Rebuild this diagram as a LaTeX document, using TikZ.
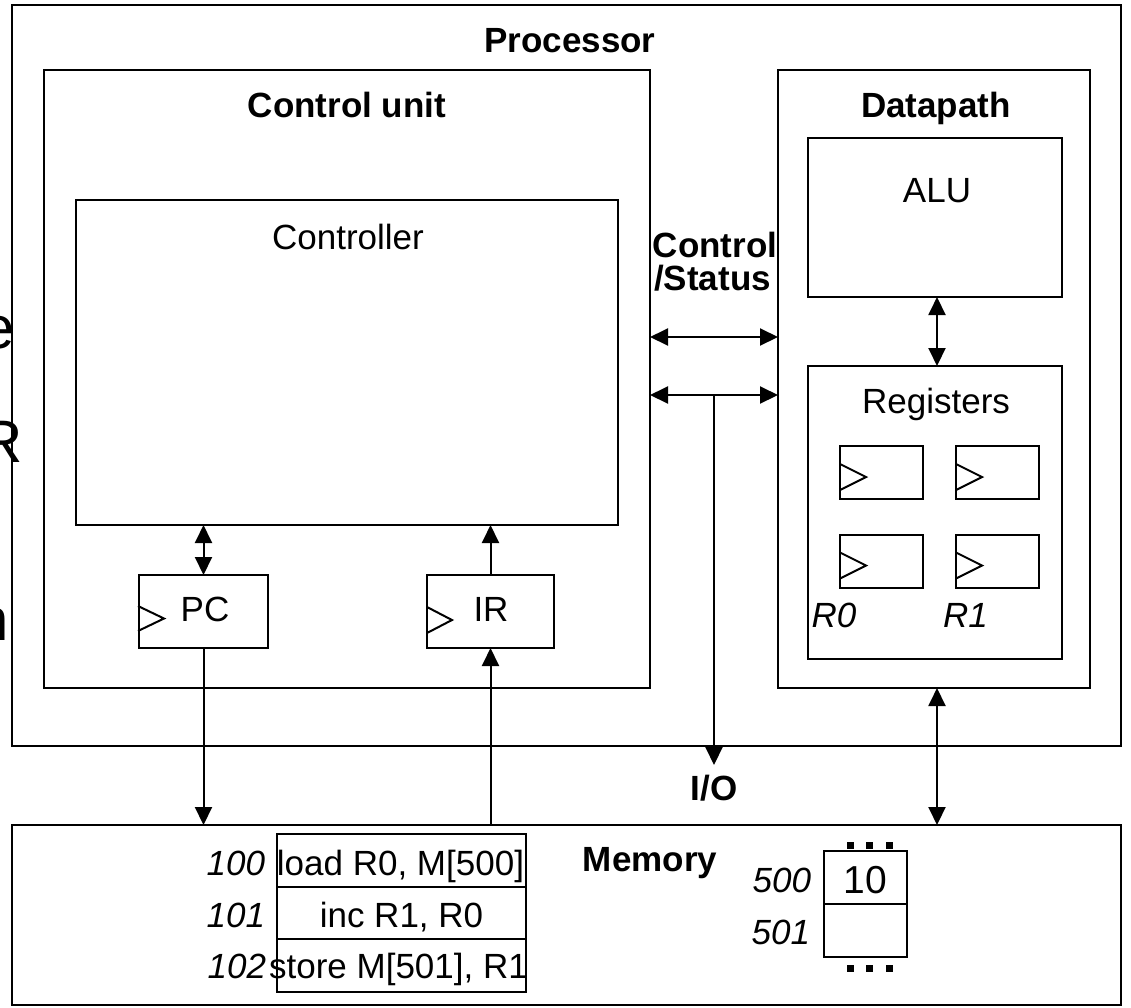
\documentclass[tikz,border=0pt]{standalone}
\usepackage{fontspec}
\setmainfont{Liberation Sans}
\usetikzlibrary{arrows.meta,calc}
\begin{document}
\begin{tikzpicture}[x=1pt,y=-1pt,
  line width=2pt,
  every node/.style={font=\fontsize{35}{40}\selectfont, inner sep=0pt},
  box/.style={draw, line width=2pt, inner sep=0pt, outer sep=0pt},
  bold/.style={font=\fontsize{35}{40}\selectfont\bfseries},
  ital/.style={font=\fontsize{35}{40}\selectfont\itshape},
  big/.style={font=\fontsize{60}{60}\selectfont},
  arr/.style={-{Triangle[length=18pt,width=17pt]}},
  dbl/.style={{Triangle[length=18pt,width=17pt]}-{Triangle[length=18pt,width=17pt]}},
  clk/.style={line width=2pt},
  dot/.style={fill=black, draw=none, minimum width=7pt, minimum height=7pt},
]
\useasboundingbox (0,0) rectangle (1131,1007);

% clipped fragments at the left edge
\begin{scope}
  \clip (0,0) rectangle (30,1007);
  \node[big, anchor=base west] (frage) at (-19,348) {e};
  \node[big, anchor=base west] (fragr) at (-21,462) {R};
  \node[big, anchor=base west] (fragn) at (-25,640) {n};
\end{scope}

% ----- boxes
\node[box, minimum width=1109pt, minimum height=741pt] (proc) at (566.5,375.5) {};
\node[box, minimum width=606pt, minimum height=618pt] (cu) at (347,379) {};
\node[box, minimum width=542pt, minimum height=325pt] (ctrl) at (347,362.5) {};
\node[box, minimum width=312pt, minimum height=618pt] (dp) at (934,379) {};
\node[box, minimum width=254pt, minimum height=159pt] (alu) at (935,217.5) {};
\node[box, minimum width=254pt, minimum height=293pt] (regs) at (935,512.5) {};
\node[box, minimum width=83pt, minimum height=53pt] (ra) at (881.5,472.5) {};
\node[box, minimum width=83pt, minimum height=53pt] (rb) at (997.5,472.5) {};
\node[box, minimum width=83pt, minimum height=53pt] (rc) at (881.5,561) {};
\node[box, minimum width=83pt, minimum height=53pt] (rd) at (997.5,561) {};
\node[box, minimum width=129pt, minimum height=73pt] (pc) at (203.5,611.5) {};
\node[box, minimum width=127pt, minimum height=73pt] (ir) at (490.5,611.5) {};
\node[box, minimum width=1109pt, minimum height=180pt] (mem) at (566.5,915) {};

% instruction memory cells
\node[box, minimum width=249pt, minimum height=53pt] (m100) at (401.5,860.5) {};
\node[box, minimum width=249pt, minimum height=52pt] (m101) at (401.5,913) {};
\node[box, minimum width=249pt, minimum height=53pt] (m102) at (401.5,965.5) {};
% data memory cells
\node[box, minimum width=83pt, minimum height=53pt] (m500) at (865.5,877.5) {};
\node[box, minimum width=83pt, minimum height=53pt] (m501) at (865.5,930.5) {};

% clock triangles
\draw[clk] ($(pc.west)+(-1,-5.5)$) -- ++(26,12.5) -- ++(-26,12.5);
\draw[clk] ($(ir.west)+(0,-4.5)$) -- ++(25,13) -- ++(-25,13);
\foreach \r in {ra,rb,rc,rd}{
  \draw[clk] ($(\r.west)+(0,-8.5)$) -- ++(26,13) -- ++(-26,13);
}

% dots
\foreach \i/\x in {1/850.5,2/869.5,3/889}{
  \node[dot] (dt\i) at (\x,845) {};
  \node[dot] (db\i) at (\x,968.5) {};
}

% ----- labels
\node[bold, anchor=base] (lproc) at (570,52) {Processor};
\node[bold, anchor=base] (lcu) at (347,117) {Control unit};
\node[anchor=base] (lctrl) at (348,249) {Controller};
\node[bold, anchor=base] (ldp) at (936,117) {Datapath};
\node[anchor=base] (lalu) at (937,202) {ALU};
\node[anchor=base] (lregs) at (936,413) {Registers};
\node[bold, anchor=base] (lcs1) at (715,257) {Control};
\node[bold, anchor=base] (lcs2) at (712.5,290) {/Status};
\node[anchor=base] (lpc) at (205,621) {PC};
\node[anchor=base] (lir) at (491,621) {IR};
\node[ital, anchor=base] (lr0) at (834,627) {R0};
\node[ital, anchor=base] (lr1) at (965.5,627) {R1};
\node[bold, anchor=base] (lio) at (714,800) {I/O};
\node[bold, anchor=base] (lmem) at (650,871) {Memory};

\node[ital, anchor=base east] (a100) at (266,875) {100};
\node[ital, anchor=base east] (a101) at (266,927) {101};
\node[ital, anchor=base east] (a102) at (267,978) {102};
\node[anchor=base] (t100) at (400.5,875) {load R0, M[500]};
\node[anchor=base] (t101) at (401.5,927) {inc R1, R0};
\node[anchor=base] (t102) at (398.5,978) {store M[501], R1};

\node[ital, anchor=base east] (a500) at (812,892) {500};
\node[ital, anchor=base east] (a501) at (811,944) {501};
\node[font=\fontsize{39}{40}\selectfont, anchor=base] (v500) at (865,893) {10};

% ----- connectors
\coordinate (bus1) at (714,337);
\coordinate (bus2) at (714,395);
\coordinate (iotip) at (714,765);
\coordinate (dmx) at (937,0);

\draw[dbl] (pc.north) -- (pc.north |- ctrl.south);
\draw[arr] (ir.north) -- (ir.north |- ctrl.south);
\draw[arr] (pc.south) -- (pc.south |- mem.north);
\draw[arr] (ir.south |- mem.north) -- (ir.south);
\draw[dbl] (cu.east |- bus1) -- (dp.west |- bus1);
\draw[dbl] (cu.east |- bus2) -- (dp.west |- bus2);
\draw[arr] (bus2) -- (iotip);
\draw[dbl] (alu.south -| dmx) -- (regs.north -| dmx);
\draw[dbl] (dp.south -| dmx) -- (mem.north -| dmx);
\end{tikzpicture}
\end{document}
